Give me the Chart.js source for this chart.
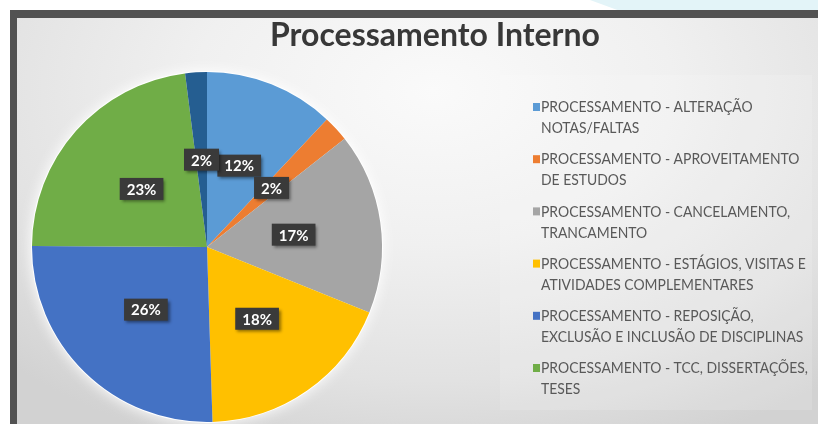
<!DOCTYPE html>
<html>
<head>
<meta charset="utf-8">
<script src="https://cdn.jsdelivr.net/npm/chart.js@4/dist/chart.umd.min.js"></script>
<style>
  body { margin: 0; width: 818px; height: 424px; background: #fff; overflow: hidden; position: relative; }
  .deco { position: absolute; left: 590px; top: 0; width: 228px; height: 10px; background: #e3f4f8;
          clip-path: polygon(0 0, 100% 0, 100% 100%, 12% 100%); }
  .frame { position: absolute; left: 10px; top: 10px; width: 808px; height: 414px; box-sizing: border-box;
           border-left: 7px solid #525252; border-top: 8px solid #525252;
           background: radial-gradient(ellipse 75% 95% at 52% 18%, #fafafa 0%, #f0f0f0 40%, #e2e2e2 75%, #d2d2d2 100%); }
  canvas { position: absolute; left: 17px; top: 18px; }
</style>
</head>
<body>
<div class="deco"></div>
<div class="frame"></div>
<canvas id="chart" width="801" height="406"></canvas>
<script>
const title = 'Processamento Interno';
const categories = [
  ['PROCESSAMENTO - ALTERAÇÃO', 'NOTAS/FALTAS'],
  ['PROCESSAMENTO - APROVEITAMENTO', 'DE ESTUDOS'],
  ['PROCESSAMENTO - CANCELAMENTO,', 'TRANCAMENTO'],
  ['PROCESSAMENTO - ESTÁGIOS, VISITAS E', 'ATIVIDADES COMPLEMENTARES'],
  ['PROCESSAMENTO - REPOSIÇÃO,', 'EXCLUSÃO E INCLUSÃO DE DISCIPLINAS'],
  ['PROCESSAMENTO - TCC, DISSERTAÇÕES,', 'TESES'],
  ['OUTROS']
];
// share of each slice (%)
const values = [12.0, 2.4, 16.7, 18.4, 25.6, 22.9, 2.0];
const colors = ['#5B9BD5', '#ED7D31', '#A5A5A5', '#FFC000', '#4472C4', '#70AD47', '#255E91'];
// the last slice has no entry in the legend
const legendCount = 6;

const glow = {
  id: 'glow',
  beforeDatasetsDraw(chart) {
    const arc = chart.getDatasetMeta(0).data[0];
    const ctx = chart.ctx;
    ctx.save();
    ctx.fillStyle = '#ffffff';
    ctx.shadowColor = 'rgba(255,255,255,1)';
    ctx.shadowBlur = 14;
    ctx.beginPath();
    ctx.arc(arc.x, arc.y, arc.outerRadius + 1, 0, Math.PI * 2);
    ctx.fill();
    ctx.restore();
  }
};

const sliceLabels = {
  id: 'sliceLabels',
  afterDatasetsDraw(chart) {
    const ctx = chart.ctx;
    const data = chart.data.datasets[0].data;
    const total = data.reduce((a, b) => a + b, 0);
    ctx.save();
    ctx.font = 'bold 15px Lato, "Open Sans", sans-serif';
    ctx.textAlign = 'center';
    ctx.textBaseline = 'middle';
    chart.getDatasetMeta(0).data.forEach((arc, i) => {
      const mid = (arc.startAngle + arc.endAngle) / 2;
      const r = arc.outerRadius * 0.5;
      const x = arc.x + Math.cos(mid) * r;
      const y = arc.y + Math.sin(mid) * r;
      const text = Math.round(data[i] / total * 100) + '%';
      const w = ctx.measureText(text).width + 14;
      const h = 22;
      ctx.save();
      ctx.shadowColor = 'rgba(0,0,0,0.45)';
      ctx.shadowBlur = 3;
      ctx.shadowOffsetX = 2;
      ctx.shadowOffsetY = 2;
      ctx.fillStyle = '#3a3a3a';
      ctx.fillRect(x - w / 2, y - h / 2, w, h);
      ctx.restore();
      ctx.fillStyle = '#ffffff';
      ctx.fillText(text, x, y + 1);
    });
    ctx.restore();
  }
};

const sideLegend = {
  id: 'sideLegend',
  afterDraw(chart) {
    const ctx = chart.ctx;
    ctx.save();
    // title
    ctx.fillStyle = '#383838';
    ctx.font = 'bold 32px Lato, "Open Sans", sans-serif';
    ctx.textAlign = 'center';
    ctx.textBaseline = 'alphabetic';
    ctx.fillText(title, 418, 28);
    // legend panel
    ctx.fillStyle = 'rgba(255,255,255,0.14)';
    ctx.fillRect(483, 57, 312, 335);
    const labels = chart.data.labels;
    const bg = chart.data.datasets[0].backgroundColor;
    for (let i = 0; i < legendCount; i++) {
      const y = 89 + i * 52.2;
      ctx.fillStyle = bg[i];
      ctx.fillRect(516, y - 4, 7, 8);
      // condensed look, like the Calibri legend of the original
      ctx.save();
      ctx.translate(524, y);
      ctx.scale(0.87, 1);
      ctx.font = '16px Lato, "Open Sans", sans-serif';
      ctx.textAlign = 'left';
      ctx.textBaseline = 'middle';
      ctx.fillStyle = '#595959';
      labels[i].forEach((line, j) => ctx.fillText(line, 0, j * 21));
      ctx.restore();
    }
    ctx.restore();
  }
};

new Chart(document.getElementById('chart'), {
  type: 'pie',
  data: {
    labels: categories,
    datasets: [{
      data: values,
      backgroundColor: colors,
      borderWidth: 0,
      hoverOffset: 0
    }]
  },
  options: {
    responsive: false,
    animation: false,
    layout: { padding: { left: 15, top: 54, right: 436, bottom: 2 } },
    plugins: {
      legend: { display: false },
      title: { display: false },
      tooltip: { enabled: false }
    }
  },
  plugins: [glow, sliceLabels, sideLegend]
});
</script>
</body>
</html>
